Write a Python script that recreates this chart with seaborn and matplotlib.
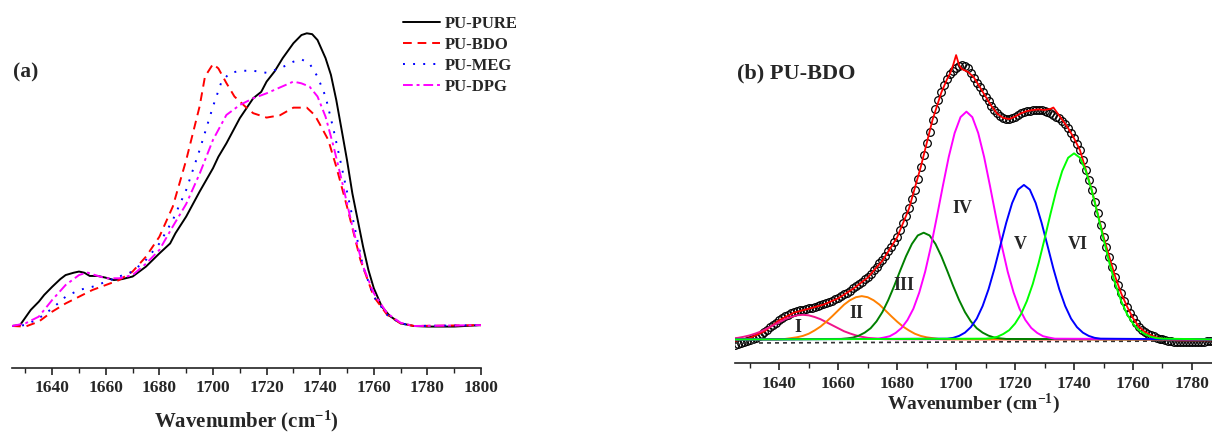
import numpy as np
import seaborn as sns
import matplotlib.pyplot as plt
from matplotlib.ticker import MultipleLocator

# ---- (a) FTIR carbonyl region, normalised absorbance ----
wn_pure = [1625, 1628, 1632, 1635, 1637, 1640, 1643, 1645, 1648, 1650, 1652, 1654, 1657,
           1660, 1663, 1666, 1670, 1675, 1680, 1684, 1686, 1690, 1695, 1700, 1702, 1705,
           1710, 1715, 1718, 1720, 1723, 1726, 1730, 1733, 1735, 1737, 1739, 1742, 1744,
           1746, 1748, 1750, 1752, 1754, 1756, 1758, 1760, 1763, 1766, 1770, 1775, 1780,
           1790, 1800]
ab_pure = [0.0, 0.003, 0.055, 0.083, 0.106, 0.134, 0.160, 0.174, 0.182, 0.186, 0.182, 0.171,
           0.171, 0.165, 0.157, 0.160, 0.169, 0.203, 0.248, 0.282, 0.317, 0.374, 0.459, 0.539,
           0.578, 0.624, 0.710, 0.778, 0.800, 0.835, 0.870, 0.915, 0.966, 0.994, 1.0, 0.997,
           0.977, 0.915, 0.858, 0.772, 0.670, 0.567, 0.453, 0.362, 0.271, 0.191, 0.129, 0.066,
           0.034, 0.009, 0.0, -0.002, -0.002, 0.003]

wn_bdo = [1625, 1630, 1635, 1640, 1645, 1650, 1655, 1660, 1665, 1670, 1675, 1680, 1685,
          1690, 1695, 1697, 1700, 1702, 1705, 1708, 1712, 1715, 1720, 1725, 1730, 1735,
          1738, 1740, 1743, 1746, 1750, 1755, 1760, 1765, 1770, 1775, 1800]
ab_bdo = [0.0, -0.002, 0.015, 0.049, 0.077, 0.100, 0.123, 0.140, 0.157, 0.186, 0.237, 0.305,
          0.408, 0.567, 0.750, 0.852, 0.895, 0.880, 0.830, 0.784, 0.750, 0.727, 0.712, 0.720,
          0.746, 0.746, 0.720, 0.687, 0.636, 0.544, 0.408, 0.226, 0.100, 0.038, 0.009, 0.0,
          0.003]

wn_meg = [1625, 1630, 1635, 1640, 1645, 1650, 1655, 1660, 1665, 1670, 1675, 1680, 1685,
          1690, 1695, 1700, 1703, 1706, 1710, 1715, 1720, 1725, 1730, 1733, 1736, 1739,
          1742, 1745, 1748, 1752, 1756, 1760, 1765, 1770, 1775, 1800]
ab_meg = [0.0, 0.003, 0.026, 0.060, 0.100, 0.123, 0.134, 0.151, 0.169, 0.186, 0.226, 0.282,
          0.362, 0.465, 0.601, 0.750, 0.830, 0.863, 0.872, 0.872, 0.865, 0.880, 0.903, 0.911,
          0.897, 0.852, 0.784, 0.670, 0.544, 0.374, 0.203, 0.100, 0.038, 0.009, 0.0, 0.003]

wn_dpg = [1625, 1630, 1635, 1640, 1645, 1650, 1653, 1656, 1660, 1665, 1670, 1675, 1680,
          1685, 1690, 1695, 1700, 1705, 1710, 1715, 1720, 1725, 1730, 1733, 1736, 1739,
          1742, 1745, 1748, 1752, 1756, 1760, 1765, 1770, 1775, 1800]
ab_dpg = [0.0, 0.009, 0.032, 0.089, 0.140, 0.174, 0.183, 0.174, 0.163, 0.163, 0.174, 0.213,
          0.260, 0.340, 0.417, 0.520, 0.636, 0.721, 0.755, 0.778, 0.795, 0.815, 0.835, 0.829,
          0.818, 0.784, 0.715, 0.613, 0.499, 0.340, 0.203, 0.112, 0.043, 0.011, 0.0, 0.003]

# ---- (b) PU-BDO deconvolution ----
wn_data = np.arange(1625, 1788)
ab_data = [-0.020, -0.016, -0.012, -0.009, -0.005, -0.002, 0.002, 0.007, 0.014, 0.021,
           0.028, 0.036, 0.044, 0.052, 0.061, 0.070, 0.078, 0.085, 0.091, 0.096,
           0.100, 0.104, 0.107, 0.109, 0.111, 0.113, 0.116, 0.119, 0.122, 0.125,
           0.129, 0.133, 0.137, 0.141, 0.146, 0.152, 0.158, 0.164, 0.170, 0.178,
           0.186, 0.194, 0.202, 0.210, 0.219, 0.228, 0.240, 0.253, 0.265, 0.277,
           0.289, 0.305, 0.321, 0.338, 0.356, 0.374, 0.398, 0.423, 0.450, 0.478,
           0.510, 0.544, 0.586, 0.629, 0.672, 0.714, 0.757, 0.800, 0.838, 0.872,
           0.902, 0.927, 0.948, 0.967, 0.979, 0.988, 0.996, 1.000, 0.996, 0.988,
           0.972, 0.951, 0.935, 0.919, 0.902, 0.885, 0.868, 0.851, 0.837, 0.824,
           0.814, 0.806, 0.802, 0.802, 0.806, 0.812, 0.818, 0.824, 0.829, 0.832,
           0.834, 0.836, 0.837, 0.836, 0.835, 0.832, 0.828, 0.824, 0.818, 0.812,
           0.805, 0.797, 0.784, 0.769, 0.752, 0.733, 0.712, 0.690, 0.655, 0.617,
           0.581, 0.544, 0.502, 0.459, 0.416, 0.374, 0.337, 0.301, 0.264, 0.228,
           0.197, 0.168, 0.142, 0.119, 0.097, 0.077, 0.061, 0.046, 0.036, 0.028,
           0.021, 0.016, 0.011, 0.007, 0.003, 0.000, -0.003, -0.005, -0.007, -0.008,
           -0.009, -0.009, -0.009, -0.009, -0.009, -0.009, -0.009, -0.009, -0.009, -0.008,
           -0.007, -0.006, -0.005]

wn_fit = [1625, 1630, 1635, 1640, 1645, 1650, 1655, 1660, 1665, 1670, 1675, 1680, 1684,
          1688, 1692, 1695, 1697, 1698, 1699, 1700, 1701, 1702, 1704, 1706, 1708, 1710,
          1712, 1714, 1716, 1718, 1720, 1722, 1724, 1726, 1728, 1730, 1732, 1733, 1734,
          1736, 1738, 1740, 1742, 1744, 1746, 1748, 1750, 1752, 1754, 1756, 1758, 1760,
          1762, 1764, 1766, 1768, 1770, 1775, 1787]
ab_fit = [-0.005, 0.005, 0.030, 0.070, 0.098, 0.112, 0.127, 0.150, 0.184, 0.225, 0.287,
          0.372, 0.476, 0.628, 0.800, 0.900, 0.950, 0.970, 1.000, 1.036, 1.000, 0.985,
          0.975, 0.955, 0.920, 0.885, 0.850, 0.822, 0.807, 0.803, 0.812, 0.824, 0.832,
          0.836, 0.838, 0.836, 0.840, 0.845, 0.830, 0.800, 0.770, 0.733, 0.690, 0.618,
          0.545, 0.460, 0.375, 0.300, 0.228, 0.168, 0.120, 0.078, 0.046, 0.028, 0.016,
          0.008, 0.002, -0.003, -0.003]

baseline_x = [1625, 1787]
baseline_y = [-0.013, -0.005]

# fitted peaks I..VI
peak_I_x = list(range(1624, 1677, 2)) + [1790]
peak_I_y = [0.004, 0.006, 0.010, 0.015, 0.022, 0.030, 0.041, 0.052, 0.063, 0.074, 0.082,
            0.088, 0.090, 0.088, 0.082, 0.074, 0.063, 0.052, 0.041, 0.030, 0.022, 0.015,
            0.010, 0.006, 0.004, 0.002, 0.001, 0.0]
peak_II_x = [1625] + list(range(1640, 1697, 2)) + [1790]
peak_II_y = [0.0, 0.001, 0.002, 0.005, 0.008, 0.013, 0.021, 0.033, 0.047, 0.065, 0.085,
             0.106, 0.127, 0.143, 0.154, 0.158, 0.154, 0.143, 0.127, 0.106, 0.085, 0.065,
             0.047, 0.033, 0.021, 0.013, 0.008, 0.005, 0.002, 0.001, 0.0]
peak_III_x = [1625] + list(range(1661, 1718, 2)) + [1790]
peak_III_y = [0.0, 0.002, 0.004, 0.007, 0.014, 0.025, 0.041, 0.066, 0.100, 0.144, 0.195,
              0.250, 0.303, 0.348, 0.379, 0.389, 0.379, 0.348, 0.303, 0.250, 0.195, 0.144,
              0.100, 0.066, 0.041, 0.025, 0.014, 0.007, 0.004, 0.002, 0.0]
peak_IV_x = [1625] + list(np.arange(1673.5, 1734, 2)) + [1790]
peak_IV_y = [0.0, 0.003, 0.007, 0.012, 0.024, 0.042, 0.071, 0.112, 0.171, 0.247, 0.341,
             0.448, 0.559, 0.665, 0.752, 0.810, 0.830, 0.810, 0.752, 0.665, 0.559, 0.448,
             0.341, 0.247, 0.171, 0.112, 0.071, 0.042, 0.024, 0.012, 0.007, 0.003, 0.0]
peak_V_x = [1625] + list(range(1697, 1750, 2)) + [1790]
peak_V_y = [0.0, 0.003, 0.006, 0.013, 0.025, 0.045, 0.076, 0.122, 0.183, 0.258, 0.342,
            0.425, 0.497, 0.546, 0.563, 0.546, 0.497, 0.425, 0.342, 0.258, 0.183, 0.122,
            0.076, 0.045, 0.025, 0.013, 0.006, 0.003, 0.0]
peak_VI_x = [1625] + list(range(1710, 1771, 2)) + [1790]
peak_VI_y = [0.0, 0.003, 0.005, 0.010, 0.020, 0.034, 0.058, 0.092, 0.140, 0.202, 0.279,
             0.366, 0.457, 0.543, 0.614, 0.662, 0.678, 0.662, 0.614, 0.543, 0.457, 0.366,
             0.279, 0.202, 0.140, 0.092, 0.058, 0.034, 0.020, 0.010, 0.005, 0.003, 0.0]

sns.set_theme(style="ticks")
plt.rcParams['font.family'] = ['Liberation Serif', 'DejaVu Serif']
plt.rcParams['font.weight'] = 'bold'
plt.rcParams['axes.labelweight'] = 'bold'
plt.rcParams['mathtext.fontset'] = 'custom'
plt.rcParams['mathtext.rm'] = 'Liberation Serif:bold'
plt.rcParams['mathtext.bf'] = 'Liberation Serif:bold'
plt.rcParams['mathtext.it'] = 'Liberation Serif:bold:italic'

W, H = 1212, 434
fig = plt.figure(figsize=(W / 100, H / 100), dpi=100)
ax_a = fig.add_axes([12 / W, 1 - 368 / H, 469 / W, 353 / H])
ax_b = fig.add_axes([735 / W, 1 - 363 / H, 477 / W, 348 / H])

# ---- panel (a)
series = [
    ("PU-PURE", wn_pure, ab_pure, "black", "-"),
    ("PU-BDO", wn_bdo, ab_bdo, "red", (0, (4.5, 3))),
    ("PU-MEG", wn_meg, ab_meg, "blue", (0, (1, 4.2))),
    ("PU-DPG", wn_dpg, ab_dpg, "magenta", (0, (5, 2, 1.5, 2))),
]
for name, x, y, col, ls in series:
    sns.lineplot(x=x, y=y, ax=ax_a, color=col, linestyle=ls, lw=1.4,
                 label=name, errorbar=None)

ax_a.set_xlim(1625, 1800)
ax_a.set_ylim(-0.1435, 1.0625)
ax_a.legend(loc="upper left", bbox_to_anchor=(403 / W, 1 - 16 / H),
            bbox_transform=fig.transFigure, frameon=False,
            prop={"size": 12, "weight": "bold"}, handlelength=2.2,
            handletextpad=0.3, labelspacing=0.3, borderpad=0, borderaxespad=0)
fig.text(13 / W, 1 - 72 / H, "(a)", fontsize=15.5, fontweight="bold",
         ha="left", va="center")

# ---- panel (b)
ax_b.plot(wn_data, ab_data, "o", mfc="none", mec="black", ms=5.5, mew=0.9)
sns.lineplot(x=baseline_x, y=baseline_y, ax=ax_b, color="#333333",
             linestyle=(0, (2.4, 2.4)), lw=1.2, errorbar=None)
sns.lineplot(x=wn_fit, y=ab_fit, ax=ax_b, color="red", lw=1.3, errorbar=None)

peaks = [
    (peak_I_x, peak_I_y, "#F0148A"),
    (peak_II_x, peak_II_y, "#FF8000"),
    (peak_III_x, peak_III_y, "#008000"),
    (peak_IV_x, peak_IV_y, "#FF00FF"),
    (peak_V_x, peak_V_y, "#0000FF"),
    (peak_VI_x, peak_VI_y, "#00FF00"),
]
for x, y, col in peaks:
    sns.lineplot(x=x, y=y, ax=ax_b, color=col, lw=1.4, errorbar=None)

peak_names = ["I", "II", "III", "IV", "V", "VI"]
name_pos = [(1646.3, 0.043), (1666.3, 0.095), (1682.4, 0.195),
            (1702.3, 0.478), (1721.9, 0.347), (1741.4, 0.347)]
for name, (px, py) in zip(peak_names, name_pos):
    ax_b.text(px, py, name, fontsize=13, fontweight="bold", ha="center", va="center")

ax_b.set_xlim(1625, 1786.8)
ax_b.set_ylim(-0.0856, 1.182)
fig.text(737 / W, 1 - 73 / H, "(b) PU-BDO", fontsize=16, fontweight="bold",
         ha="left", va="center")

for ax, lab_size, lab_pad in [(ax_a, 15, 9), (ax_b, 14, 0)]:
    sns.despine(ax=ax, left=True, top=True, right=True)
    ax.spines["bottom"].set_linewidth(1.2)
    ax.spines["bottom"].set_color("#222222")
    ax.set_yticks([])
    ax.xaxis.set_major_locator(MultipleLocator(20))
    ax.xaxis.set_minor_locator(MultipleLocator(10))
    ax.tick_params(axis="x", which="major", length=5, width=1.2, direction="out",
                   labelsize=12.5, pad=4, color="#222222")
    ax.tick_params(axis="x", which="minor", length=3.5, width=1.0, direction="out",
                   color="#222222")
    ax.set_xlabel(r"Wavenumber (cm$^{-1}$)", fontsize=lab_size, fontweight="bold",
                  labelpad=lab_pad)
    ax.set_ylabel("")

fig.savefig("out.png", dpi=100)
